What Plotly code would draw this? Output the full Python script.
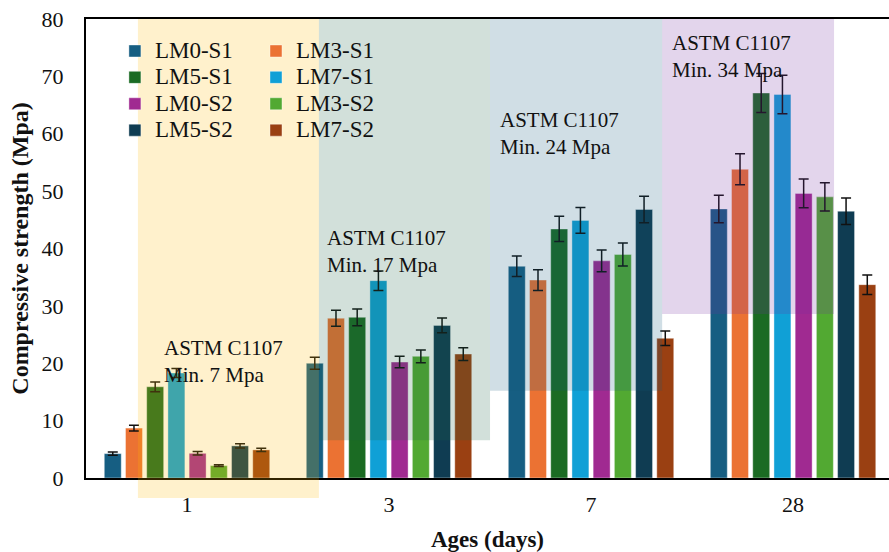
import plotly.graph_objects as go

ages = ["1", "3", "7", "28"]
series_names = ["LM0-S1", "LM3-S1", "LM5-S1", "LM7-S1", "LM0-S2", "LM3-S2", "LM5-S2", "LM7-S2"]

lm0_s1 = [4.25, 20.0, 36.9, 46.9]
lm3_s1 = [8.7, 27.85, 34.5, 53.8]
lm5_s1 = [15.9, 28.0, 43.4, 67.1]
lm7_s1 = [18.3, 34.4, 44.9, 66.85]
lm0_s2 = [4.3, 20.2, 37.85, 49.6]
lm3_s2 = [2.15, 21.2, 38.95, 49.0]
lm5_s2 = [5.6, 26.6, 46.8, 46.5]
lm7_s2 = [4.9, 21.6, 24.35, 33.7]

err_lm0_s1 = [0.3, 1.05, 1.8, 2.4]
err_lm3_s1 = [0.5, 1.4, 1.8, 2.7]
err_lm5_s1 = [0.85, 1.45, 2.2, 3.4]
err_lm7_s1 = [0.8, 1.7, 2.25, 3.35]
err_lm0_s2 = [0.3, 1.0, 1.9, 2.5]
err_lm3_s2 = [0.15, 1.1, 2.0, 2.45]
err_lm5_s2 = [0.35, 1.3, 2.3, 2.3]
err_lm7_s2 = [0.3, 1.1, 1.25, 1.7]

values = [lm0_s1, lm3_s1, lm5_s1, lm7_s1, lm0_s2, lm3_s2, lm5_s2, lm7_s2]
errors = [err_lm0_s1, err_lm3_s1, err_lm5_s1, err_lm7_s1, err_lm0_s2, err_lm3_s2, err_lm5_s2, err_lm7_s2]
colors = ["#165E82", "#EB7233", "#1B6B23", "#10A0D6", "#A02A91", "#52A932", "#0F3C52", "#9A4012"]
legend_ids = ["legend", "legend2", "legend", "legend2", "legend", "legend2", "legend", "legend2"]

standards = ["ASTM C1107<br>Min. 7 Mpa", "ASTM C1107<br>Min. 17 Mpa",
             "ASTM C1107<br>Min. 24 Mpa", "ASTM C1107<br>Min. 34 Mpa"]

FONT = "Liberation Serif"

fig = go.Figure()
for name, vals, errs, col, lg in zip(series_names, values, errors, colors, legend_ids):
    fig.add_trace(go.Bar(
        x=ages, y=vals, name='<span style="font-size:23px">' + name + '</span>',
        marker=dict(color=col, line=dict(color="rgba(255,255,255,0.4)", width=1)),
        error_y=dict(type="data", array=errs, visible=True, color="#111111",
                     thickness=1.5, width=5),
        legend=lg,
    ))

# shaded regions (drawn above the bars, semi-transparent)
regions = [
    dict(x0=-0.243, x1=0.653, y0=-0.0434, y1=1.0, yref="paper", color="rgba(255,185,0,0.2)"),
    dict(x0=0.653, x1=1.5, y0=6.6, y1=80, yref="y", color="rgba(30,100,70,0.2)"),
    dict(x0=1.5, x1=2.352, y0=15.2, y1=80, yref="y", color="rgba(20,90,125,0.2)"),
    dict(x0=2.352, x1=3.203, y0=28.6, y1=80, yref="y", color="rgba(115,45,160,0.2)"),
]
for r in regions:
    fig.add_shape(type="rect", xref="x", yref=r["yref"], x0=r["x0"], x1=r["x1"],
                  y0=r["y0"], y1=r["y1"], fillcolor=r["color"], line=dict(width=0),
                  layer="above")

ann_pos = [(-0.125, 20.35), (0.683, 39.4), (1.54, 60.1), (2.39, 73.5)]
for txt, (ax_, ay_) in zip(standards, ann_pos):
    fig.add_annotation(x=ax_, y=ay_, xref="x", yref="y", text=txt, showarrow=False,
                       xanchor="left", yanchor="middle", align="left",
                       font=dict(family=FONT, size=21, color="#111111"))

fig.update_layout(
    width=889, height=552,
    margin=dict(l=86, r=0, t=19, b=74),
    paper_bgcolor="white", plot_bgcolor="white",
    barmode="group", bargap=0.16, bargroupgap=0.2,
    font=dict(family=FONT, color="#111111"),
    legend=dict(x=0.036, y=0.97, xanchor="left", yanchor="top",
                bgcolor="rgba(0,0,0,0)", font=dict(family=FONT, size=18, color="#111111")),
    legend2=dict(x=0.2117, y=0.97, xanchor="left", yanchor="top",
                 bgcolor="rgba(0,0,0,0)", font=dict(family=FONT, size=18, color="#111111")),
    showlegend=True,
)
fig.update_xaxes(type="category", range=[-0.5, 3.475], showline=True, linecolor="black",
                 linewidth=2, mirror=True, ticks="", showgrid=False,
                 tickfont=dict(family=FONT, size=22, color="#111111"), ticklabelstandoff=6,
                 title=dict(text="<b>Ages (days)</b>", font=dict(family=FONT, size=23, color="#111111"),
                            standoff=18))
fig.update_yaxes(range=[0, 80], dtick=10, showline=True, linecolor="black", linewidth=2,
                 ticks="", showgrid=False, zeroline=False,
                 tickfont=dict(family=FONT, size=22, color="#111111"), ticklabelstandoff=16,
                 title=dict(text="<b>Compressive strength (Mpa)</b>",
                            font=dict(family=FONT, size=24, color="#111111"), standoff=6))

fig.write_html("out.html", config={"displayModeBar": False},
               post_script="document.body.style.margin='0px';")
